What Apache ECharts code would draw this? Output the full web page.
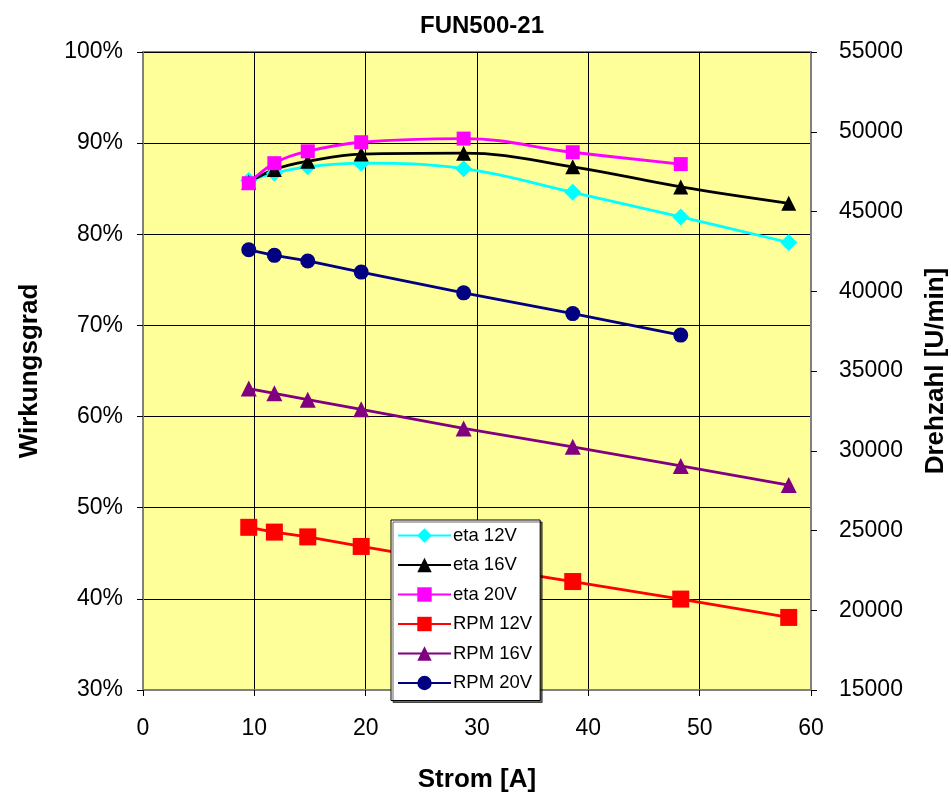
<!DOCTYPE html>
<html>
<head>
<meta charset="utf-8">
<script src="https://cdn.jsdelivr.net/npm/echarts@6/dist/echarts.min.js"></script>
<style>
html,body{margin:0;padding:0;background:#fff;}
#chart{width:951px;height:796px;}
</style>
</head>
<body>
<div id="chart"></div>
<script>
// Strom [A] for each measuring point
const stromLong = [9.5, 11.8, 14.8, 19.6, 28.8, 38.6, 48.3, 58.0];
const stromShort = [9.5, 11.8, 14.8, 19.6, 28.8, 38.6, 48.3];

// Wirkungsgrad [%]
const eta12 = [85.9, 86.7, 87.4, 87.8, 87.2, 84.6, 81.9, 79.1];
const eta16 = [85.7, 87.1, 88.0, 88.8, 88.9, 87.4, 85.2, 83.4];
const eta20 = [85.6, 87.8, 89.1, 90.1, 90.5, 89.0, 87.7];

// Drehzahl [U/min]
const rpm12 = [25200, 24900, 24600, 24000, 22900, 21800, 20700, 19550];
const rpm16 = [33900, 33600, 33200, 32600, 31400, 30250, 29050, 27850];
const rpm20 = [42600, 42250, 41900, 41200, 39900, 38600, 37250];

const xTicks = {min: 0, max: 60, step: 10};
const leftTicks = {min: 30, max: 100, step: 10};
const rightTicks = {min: 15000, max: 55000, step: 5000};

function pairs(xs, ys){ return ys.map((y,i)=>[xs[i], y]); }

const chart = echarts.init(document.getElementById('chart'), null, {renderer:'canvas'});
const font = 'Liberation Sans, Arial, sans-serif';

function lineSeries(name, xs, ys, color, symbol, size, yIdx, smooth){
  return {
    name: name, type: 'line', yAxisIndex: yIdx,
    data: pairs(xs, ys),
    smooth: smooth,
    symbol: symbol, symbolSize: size,
    showAllSymbol: true,
    lineStyle: {color: color, width: 2.8},
    itemStyle: {color: color, borderWidth: 0},
    emphasis: {disabled: true},
    animation: false
  };
}

const option = {
  animation: false,
  backgroundColor: '#ffffff',
  title: {
    text: 'FUN500-21', left: 477, top: 9, textAlign: 'center',
    textStyle: {fontFamily: font, fontWeight: 'bold', fontSize: 24, color: '#000'}
  },
  grid: {
    left: 143, right: 140, top: 52, bottom: 106,
    containLabel: false, outerBoundsMode: 'none',
    show: true, backgroundColor: '#FFFF99', borderColor: '#808080', borderWidth: 2
  },
  legend: {
    orient: 'vertical', left: 391, top: 520,
    itemWidth: 53, itemHeight: 18, itemGap: 10.5,
    padding: [6, 8, 8, 6],
    backgroundColor: '#ffffff', borderColor: '#000000', borderWidth: 1,
    shadowColor: 'rgba(0,0,0,0.6)', shadowOffsetX: 2, shadowOffsetY: 2, shadowBlur: 0,
    textStyle: {fontFamily: font, fontSize: 18.5, color: '#000', padding: [0,0,0,-3]},
    data: ['eta 12V','eta 16V','eta 20V','RPM 12V','RPM 16V','RPM 20V']
  },
  xAxis: {
    type: 'value', min: xTicks.min, max: xTicks.max, interval: xTicks.step,
    name: 'Strom [A]', nameLocation: 'middle', nameGap: 77,
    nameTextStyle: {fontFamily: font, fontWeight: 'bold', fontSize: 26, color: '#000'},
    axisLine: {show: true, lineStyle: {color: '#808080', width: 2}},
    axisTick: {show: true, length: 6, lineStyle: {color: '#000'}},
    axisLabel: {fontFamily: font, fontSize: 23, color: '#000', margin: 27},
    splitLine: {show: true, lineStyle: {color: '#000', width: 1}}
  },
  yAxis: [{
    type: 'value', position: 'left', min: leftTicks.min, max: leftTicks.max, interval: leftTicks.step,
    name: 'Wirkungsgrad', nameLocation: 'middle', nameGap: 100, nameRotate: 90,
    nameTextStyle: {fontFamily: font, fontWeight: 'bold', fontSize: 26, color: '#000'},
    axisLine: {show: true, lineStyle: {color: '#808080', width: 2}},
    axisTick: {show: true, length: 6, lineStyle: {color: '#000'}},
    axisLabel: {fontFamily: font, fontSize: 23, color: '#000', margin: 20, formatter: v => v + '%'},
    splitLine: {show: true, lineStyle: {color: '#000', width: 1}}
  },{
    type: 'value', position: 'right', min: rightTicks.min, max: rightTicks.max, interval: rightTicks.step,
    name: 'Drehzahl [U/min]', nameLocation: 'middle', nameGap: 112, nameRotate: 90,
    nameTextStyle: {fontFamily: font, fontWeight: 'bold', fontSize: 26, color: '#000'},
    axisLine: {show: true, lineStyle: {color: '#808080', width: 2}},
    axisTick: {show: true, length: 6, lineStyle: {color: '#000'}},
    axisLabel: {fontFamily: font, fontSize: 23, color: '#000', margin: 28, formatter: v => String(v)},
    splitLine: {show: false}
  }],
  series: [
    lineSeries('eta 12V', stromLong, eta12, '#00FFFF', 'diamond', 17, 0, 0.4),
    lineSeries('eta 16V', stromLong, eta16, '#000000', 'triangle', 15, 0, 0.4),
    lineSeries('eta 20V', stromShort, eta20, '#FF00FF', 'rect', 14, 0, 0.4),
    lineSeries('RPM 12V', stromLong, rpm12, '#FF0000', 'rect', 17, 1, 0),
    lineSeries('RPM 16V', stromLong, rpm16, '#800080', 'triangle', 16, 1, 0),
    lineSeries('RPM 20V', stromShort, rpm20, '#000080', 'circle', 15, 1, 0)
  ]
};
chart.setOption(option);
</script>
</body>
</html>
